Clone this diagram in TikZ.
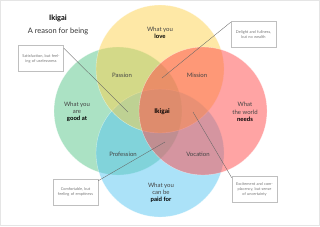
\documentclass[tikz,border=0pt]{standalone}
\usepackage{fontspec}
\setmainfont{Lato}
\definecolor{cy}{HTML}{FDD14D}
\definecolor{cg}{HTML}{57C589}
\definecolor{cr}{HTML}{FF4949}
\definecolor{cb}{HTML}{57C5F1}
\definecolor{txt}{HTML}{444444}
\definecolor{boxtxt}{HTML}{777777}
\tikzset{
  circ/.style={fill=#1, fill opacity=0.5, draw=white, draw opacity=0.5, line width=0.4pt},
  lbl/.style={text=txt, font=\fontsize{6}{7.2}\selectfont, align=center, inner sep=0pt},
  note/.style={draw=black!25, fill=white, line width=0.6pt, text=boxtxt, font=\fontsize{3.9}{5}\selectfont, align=center, inner sep=1pt, minimum width=45pt, minimum height=26pt, text width=43pt},
  conn/.style={draw=black!60, line width=0.35pt}
}
\begin{document}
\begin{tikzpicture}[x=1pt,y=-1pt]
\useasboundingbox (0,0) rectangle (320,226);
\draw[black!10, line width=0.8pt] (0.4,0.4) rectangle (319.6,225.6);
% circles
\path[circ=cg] (118,111) circle (64);
\path[circ=cb] (160,153) circle (64);
\path[circ=cy] (160,69) circle (64);
\path[circ=cr] (203,111) circle (64);
% title
\node[lbl, font=\fontsize{7.5}{9}\selectfont\bfseries, text=black] (title) at (58,18) {Ikigai};
\node[lbl, font=\fontsize{7.5}{9}\selectfont, text=black!80] (sub) at (58,31) {A reason for being};
% labels
\node[lbl] (love) at (160,33) {What you\\\textbf{\color{black}love}};
\node[lbl] (good) at (77,112) {What you\\are\\\textbf{\color{black}good at}};
\node[lbl] (needs) at (245,112) {What\\the world\\\textbf{\color{black}needs}};
\node[lbl] (paid) at (161,193) {What you\\can be\\\textbf{\color{black}paid for}};
\node[lbl] (passion) at (122,75) {Passion};
\node[lbl] (mission) at (197,75) {Mission};
\node[lbl] (profession) at (123,154) {Profession};
\node[lbl] (vocation) at (198,154) {Vocation};
\node[lbl, font=\fontsize{6.5}{8}\selectfont\bfseries, text=black] (ikigai) at (162,112) {Ikigai};
% notes
\node[note] (n1) at (41,58.5) {Satisfaction, but feel-\\ing of uselessness};
\node[note] (n2) at (253.5,34.5) {Delight and fullness,\\but no wealth};
\node[note] (n3) at (254.5,189) {Excitement and com-\\placency, but sense\\of uncertainty};
\node[note] (n4) at (75.5,192) {Comfortable, but\\feeling of emptiness};
\coordinate (e1) at (128,112);
\coordinate (e2) at (162,78);
\coordinate (e3) at (193,112);
\coordinate (e4) at (165,142);
\draw[conn] ([yshift=-3pt]n1.north east) -- (e1);
\draw[conn] ([yshift=-1pt]n2.north west) -- (e2);
\draw[conn] ([yshift=-2pt]n3.north west) -- (e3);
\draw[conn] ([yshift=-2pt]n4.north east) -- (e4);
\end{tikzpicture}
\end{document}
